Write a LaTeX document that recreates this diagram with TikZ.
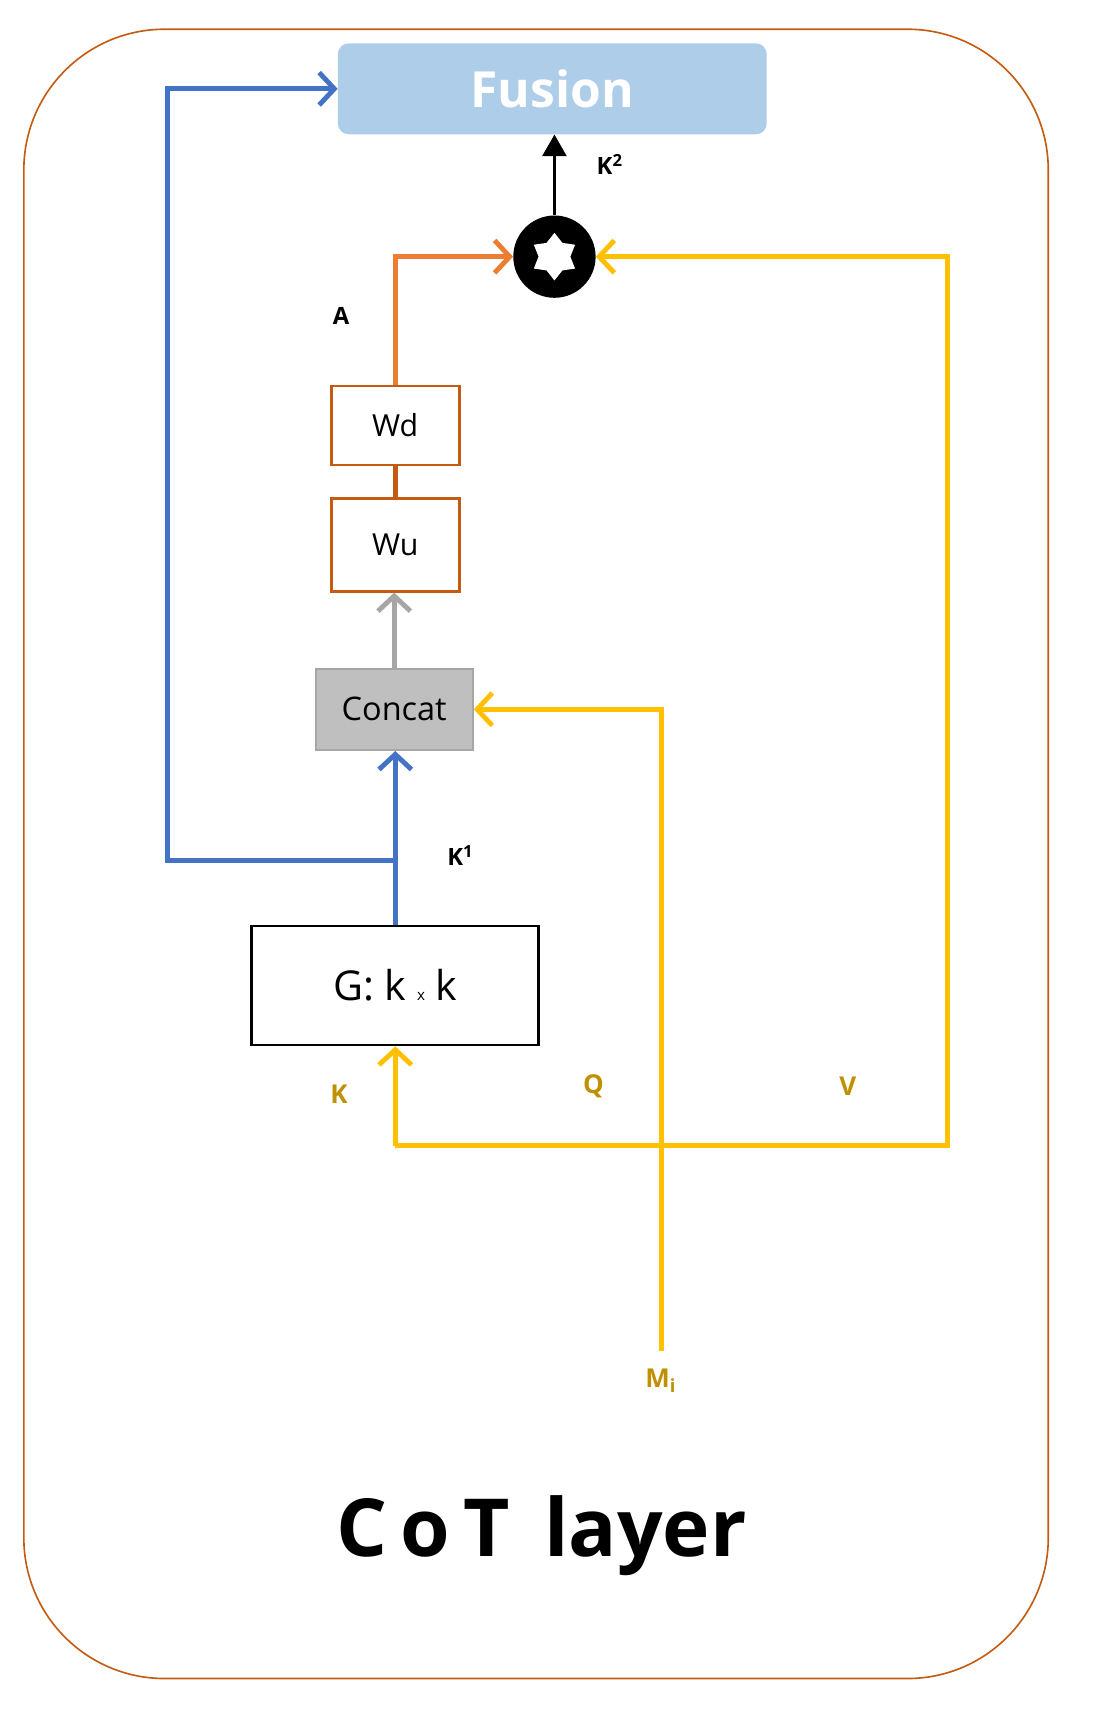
\documentclass[tikz,border=0pt]{standalone}
\usepackage{fontspec}
\setmainfont{Open Sans}
\usetikzlibrary{arrows.meta,shapes.geometric}
\definecolor{brd}{HTML}{C55A11}
\definecolor{org}{HTML}{ED7D31}
\definecolor{ylw}{HTML}{FFC000}
\definecolor{dylw}{HTML}{BF9000}
\definecolor{blu}{HTML}{4472C4}
\definecolor{fus}{HTML}{AECDE9}
\tikzset{
  bx/.style={draw=brd,line width=2.5pt,minimum width=118pt,font=\fontsize{28}{32}\selectfont},
  arr/.style={line width=4.5pt,-{Straight Barb[length=14pt,width=30pt,line width=4.5pt]}},
  ln/.style={line width=4.5pt},
  lab/.style={font=\bfseries\fontsize{22}{26}\selectfont},
  ylab/.style={font=\bfseries\fontsize{24}{28}\selectfont,text=dylw}
}
\begin{document}
\begin{tikzpicture}[x=1pt,y=-1pt]
\useasboundingbox (0,0) rectangle (1024,1580);
\draw[brd,line width=1.5pt,rounded corners=130pt] (22,27) rectangle (968,1550);
\node[fill=fus,rounded corners=10pt,minimum width=396pt,minimum height=84pt,text=white,font=\bfseries\fontsize{46}{50}\selectfont] (fus) at (510,82) {Fusion};
\node[circle,fill=black,minimum size=76pt,inner sep=0] (op) at (512,237) {};
\node[star,star points=6,star point ratio=1.5,fill=white,minimum size=44pt,inner sep=0] at (512,237) {};
\node[bx,minimum height=73pt] (wd) at (365,393) {Wd};
\node[bx,minimum height=86pt] (wu) at (365,503) {Wu};
\node[draw=gray!70,line width=2pt,fill=gray!50,minimum width=145pt,minimum height=75pt,font=\fontsize{30}{34}\selectfont] (cc) at (364,655) {Concat};
\node[draw,line width=2.5pt,minimum width=265pt,minimum height=110pt,font=\fontsize{38}{42}\selectfont] (g) at (365,910) {G: k {\fontsize{14}{16}\selectfont x} k};
\coordinate (ylwb) at (365,1058);
\coordinate (yr) at (875,1058);
\coordinate (mi) at (611,1248);
\coordinate (bj) at (365,795);
% arrows
\draw[line width=3pt,-{Triangle[length=20pt,width=22pt]}] (op.north) -- (fus.south -| op.north);
\draw[arr,org] (wd.north) |- (op.west);
\draw[ln,brd] (wd.south) -- (wu.north);
\draw[arr,gray!70] (cc.north) -- (cc.north |- wu.south);
\draw[arr,blu] (g.north) -- (g.north |- cc.south);
\draw[arr,blu] (bj) -- (155,795) |- (fus.west);
\draw[arr,ylw] (mi) |- (cc.east);
\draw[arr,ylw] (ylwb) -- (g.south);
\draw[arr,ylw] (ylwb) -- (yr) |- (op.east);
% labels
\node[lab] at (563,152) {K\textsuperscript{2}};
\node[lab] at (315,292) {A};
\node[lab] at (425,790) {K\textsuperscript{1}};
\node[ylab] at (313,1010) {K};
\node[ylab] at (548,1003) {Q};
\node[ylab] at (783,1003) {V};
\node[ylab] at (610,1275) {M\textsubscript{i}};
\node[font=\bfseries\fontsize{74}{80}\selectfont] at (500,1418) {C\,o\,T\, layer};
\end{tikzpicture}
\end{document}
